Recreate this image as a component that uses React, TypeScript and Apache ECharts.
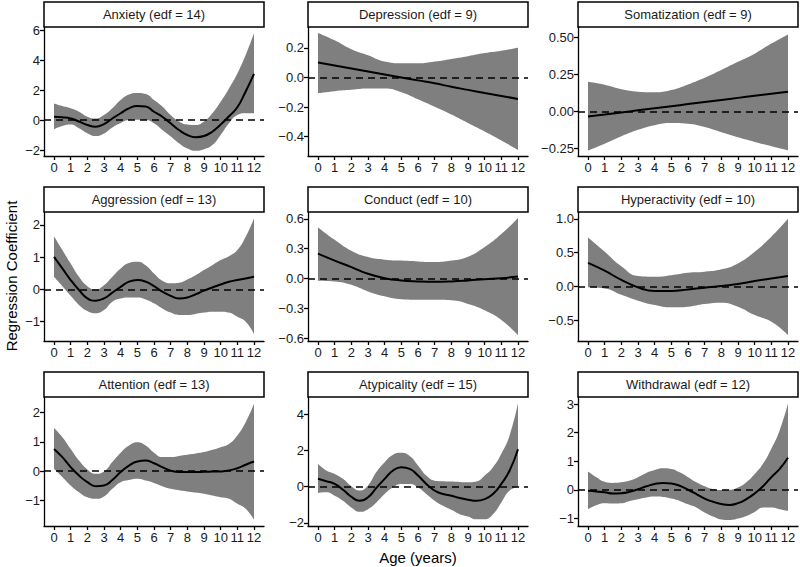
import React, { useEffect, useRef } from "react";
import * as echarts from "echarts";

// ---------- Data ----------
const AGE_HALF = [0, 0.5, 1, 1.5, 2, 2.5, 3, 3.5, 4, 4.5, 5, 5.5, 6, 6.5, 7, 7.5, 8, 8.5, 9, 9.5, 10, 10.5, 11, 11.5, 12];
const AGE_INT = [0, 1, 2, 3, 4, 5, 6, 7, 8, 9, 10, 11, 12];

const X_TICKS = [0, 1, 2, 3, 4, 5, 6, 7, 8, 9, 10, 11, 12];
const X_TICK_LABELS = ["0", "1", "2", "3", "4", "5", "6", "7", "8", "9", "10", "11", "12"];

const PANEL_TITLES = [
  "Anxiety (edf = 14)",
  "Depression (edf = 9)",
  "Somatization (edf = 9)",
  "Aggression (edf = 13)",
  "Conduct (edf = 10)",
  "Hyperactivity (edf = 10)",
  "Attention (edf = 13)",
  "Atypicality (edf = 15)",
  "Withdrawal (edf = 12)",
];

const ANXIETY_FIT = [0.22, 0.18, 0.1, -0.1, -0.33, -0.45, -0.27, 0.1, 0.45, 0.78, 0.93, 0.9, 0.55, 0.22, -0.22, -0.67, -1.0, -1.15, -1.07, -0.78, -0.3, 0.25, 0.85, 1.9, 3.07];
const ANXIETY_UP = [1.1, 0.93, 0.78, 0.55, 0.22, 0.1, 0.33, 0.78, 1.33, 1.7, 1.8, 1.73, 1.33, 0.9, 0.33, -0.1, -0.3, -0.33, -0.1, 0.45, 1.22, 2.1, 3.1, 4.33, 5.78];
const ANXIETY_LO = [-0.62, -0.4, -0.3, -0.55, -0.88, -1.07, -0.9, -0.5, -0.2, 0.0, 0.02, 0.0, -0.22, -0.67, -1.1, -1.55, -1.9, -2.05, -1.95, -1.67, -1.0, -0.22, 0.33, 0.45, 0.45];

const DEPRESSION_FIT = [0.1, 0.08, 0.06, 0.04, 0.02, 0.0, -0.02, -0.04, -0.063, -0.084, -0.105, -0.125, -0.145];
const DEPRESSION_UP = [0.3, 0.25, 0.19, 0.15, 0.107, 0.095, 0.095, 0.107, 0.125, 0.143, 0.164, 0.18, 0.2];
const DEPRESSION_LO = [-0.107, -0.093, -0.084, -0.075, -0.075, -0.1, -0.148, -0.198, -0.25, -0.307, -0.364, -0.425, -0.489];

const SOMATIZATION_FIT = [-0.033, -0.02, -0.006, 0.008, 0.022, 0.036, 0.05, 0.064, 0.078, 0.092, 0.106, 0.12, 0.134];
const SOMATIZATION_UP = [0.2, 0.18, 0.15, 0.134, 0.13, 0.145, 0.183, 0.228, 0.28, 0.335, 0.39, 0.458, 0.52];
const SOMATIZATION_LO = [-0.263, -0.217, -0.167, -0.123, -0.092, -0.078, -0.083, -0.105, -0.14, -0.174, -0.205, -0.234, -0.261];

const AGGRESSION_FIT = [1.01, 0.65, 0.29, -0.02, -0.28, -0.35, -0.28, -0.1, 0.08, 0.24, 0.29, 0.24, 0.1, -0.07, -0.2, -0.28, -0.25, -0.15, -0.04, 0.06, 0.15, 0.24, 0.29, 0.34, 0.39];
const AGGRESSION_UP = [1.65, 1.22, 0.8, 0.39, 0.1, 0.0, 0.13, 0.39, 0.65, 0.82, 0.86, 0.75, 0.49, 0.27, 0.19, 0.21, 0.31, 0.44, 0.6, 0.75, 0.91, 1.03, 1.22, 1.63, 2.2];
const AGGRESSION_LO = [0.39, 0.1, -0.2, -0.48, -0.67, -0.74, -0.64, -0.38, -0.28, -0.25, -0.25, -0.31, -0.43, -0.59, -0.72, -0.79, -0.79, -0.76, -0.72, -0.69, -0.69, -0.72, -0.85, -1.0, -1.38];

const CONDUCT_FIT = [0.25, 0.18, 0.115, 0.047, 0.003, -0.02, -0.03, -0.034, -0.03, -0.02, -0.007, 0.003, 0.02];
const CONDUCT_UP = [0.515, 0.39, 0.28, 0.216, 0.19, 0.18, 0.172, 0.165, 0.18, 0.22, 0.317, 0.448, 0.61];
const CONDUCT_LO = [-0.024, -0.03, -0.064, -0.13, -0.18, -0.21, -0.215, -0.215, -0.22, -0.256, -0.32, -0.418, -0.57];

const HYPERACTIVITY_FIT = [0.35, 0.235, 0.1, -0.01, -0.064, -0.064, -0.04, -0.015, 0.01, 0.04, 0.083, 0.12, 0.157];
const HYPERACTIVITY_UP = [0.725, 0.515, 0.3, 0.157, 0.147, 0.17, 0.206, 0.22, 0.255, 0.343, 0.515, 0.735, 1.0];
const HYPERACTIVITY_LO = [-0.01, -0.025, -0.12, -0.206, -0.27, -0.304, -0.294, -0.255, -0.235, -0.294, -0.417, -0.515, -0.71];

const ATTENTION_FIT = [0.76, 0.48, 0.14, -0.15, -0.375, -0.51, -0.49, -0.3, -0.03, 0.19, 0.33, 0.36, 0.27, 0.14, 0.02, -0.03, -0.03, -0.03, -0.02, -0.015, -0.01, 0.02, 0.1, 0.22, 0.33];
const ATTENTION_UP = [1.47, 1.16, 0.76, 0.36, 0.06, -0.09, -0.01, 0.31, 0.63, 0.875, 0.99, 0.875, 0.63, 0.48, 0.48, 0.52, 0.56, 0.6, 0.65, 0.73, 0.82, 0.93, 1.22, 1.67, 2.3];
const ATTENTION_LO = [0.08, -0.2, -0.49, -0.72, -0.89, -0.94, -0.86, -0.6, -0.375, -0.3, -0.26, -0.32, -0.4, -0.51, -0.6, -0.65, -0.69, -0.73, -0.77, -0.83, -0.89, -0.94, -1.11, -1.28, -1.65];

const ATYPICALITY_FIT = [0.43, 0.3, 0.15, -0.17, -0.56, -0.78, -0.59, -0.07, 0.43, 0.89, 1.07, 0.98, 0.61, 0.15, -0.22, -0.41, -0.5, -0.63, -0.72, -0.78, -0.69, -0.41, 0.15, 0.89, 2.06];
const ATYPICALITY_UP = [1.26, 0.89, 0.7, 0.43, 0.02, -0.22, 0.06, 0.8, 1.35, 1.76, 1.87, 1.69, 1.17, 0.61, 0.33, 0.3, 0.28, 0.26, 0.24, 0.28, 0.61, 1.07, 1.81, 2.83, 4.59];
const ATYPICALITY_LO = [-0.35, -0.31, -0.5, -0.78, -1.15, -1.39, -1.24, -0.87, -0.41, -0.04, 0.15, 0.15, -0.04, -0.41, -0.78, -1.06, -1.28, -1.52, -1.65, -1.8, -1.8, -1.52, -0.87, -0.22, -0.04];

const WITHDRAWAL_FIT = [-0.035, -0.06, -0.09, -0.13, -0.12, -0.07, 0.02, 0.12, 0.2, 0.24, 0.22, 0.14, 0.0, -0.15, -0.31, -0.42, -0.5, -0.53, -0.47, -0.33, -0.13, 0.12, 0.44, 0.73, 1.12];
const WITHDRAWAL_UP = [0.64, 0.44, 0.28, 0.24, 0.26, 0.32, 0.44, 0.59, 0.69, 0.75, 0.73, 0.61, 0.44, 0.26, 0.12, 0.02, -0.01, 0.0, 0.08, 0.26, 0.55, 0.91, 1.44, 2.08, 3.02];
const WITHDRAWAL_LO = [-0.68, -0.54, -0.47, -0.48, -0.47, -0.39, -0.33, -0.27, -0.24, -0.25, -0.31, -0.39, -0.51, -0.62, -0.8, -0.94, -1.04, -1.06, -1.01, -0.92, -0.78, -0.62, -0.62, -0.68, -0.74];

const Y_RANGES = [
  [-2.4, 6.2],
  [-0.53, 0.34],
  [-0.3, 0.57],
  [-1.6, 2.4],
  [-0.63, 0.67],
  [-0.8, 1.1],
  [-1.87, 2.53],
  [-2.17, 4.94],
  [-1.27, 3.25],
];

const Y_TICKS = [
  [-2, 0, 2, 4, 6],
  [-0.4, -0.2, 0, 0.2],
  [-0.25, 0, 0.25, 0.5],
  [-1, 0, 1, 2],
  [-0.6, -0.3, 0, 0.3, 0.6],
  [-0.5, 0, 0.5, 1.0],
  [-1, 0, 1, 2],
  [-2, 0, 2, 4],
  [-1, 0, 1, 2, 3],
];

const Y_TICK_LABELS = [
  ["\u22122", "0", "2", "4", "6"],
  ["\u22120.4", "\u22120.2", "0.0", "0.2"],
  ["\u22120.25", "0.00", "0.25", "0.50"],
  ["\u22121", "0", "1", "2"],
  ["\u22120.6", "\u22120.3", "0.0", "0.3", "0.6"],
  ["\u22120.5", "0.0", "0.5", "1.0"],
  ["\u22121", "0", "1", "2"],
  ["\u22122", "0", "2", "4"],
  ["\u22121", "0", "1", "2", "3"],
];

const PANELS = [
  { ages: AGE_HALF, fit: ANXIETY_FIT, up: ANXIETY_UP, lo: ANXIETY_LO },
  { ages: AGE_INT, fit: DEPRESSION_FIT, up: DEPRESSION_UP, lo: DEPRESSION_LO },
  { ages: AGE_INT, fit: SOMATIZATION_FIT, up: SOMATIZATION_UP, lo: SOMATIZATION_LO },
  { ages: AGE_HALF, fit: AGGRESSION_FIT, up: AGGRESSION_UP, lo: AGGRESSION_LO },
  { ages: AGE_INT, fit: CONDUCT_FIT, up: CONDUCT_UP, lo: CONDUCT_LO },
  { ages: AGE_INT, fit: HYPERACTIVITY_FIT, up: HYPERACTIVITY_UP, lo: HYPERACTIVITY_LO },
  { ages: AGE_HALF, fit: ATTENTION_FIT, up: ATTENTION_UP, lo: ATTENTION_LO },
  { ages: AGE_HALF, fit: ATYPICALITY_FIT, up: ATYPICALITY_UP, lo: ATYPICALITY_LO },
  { ages: AGE_HALF, fit: WITHDRAWAL_FIT, up: WITHDRAWAL_UP, lo: WITHDRAWAL_LO },
];

// ---------- Layout ----------
const FONT = "'Liberation Sans', Arial, Helvetica, sans-serif";
const COL_LEFT = [44, 308, 578];
const ROW_TOP = [27, 212, 397];
const PW = 220;
const PH = 129;
const STRIP_H = 25;
const BAND_COLOR = "#7f7f7f";

function buildOption() {
  const grid: any[] = [];
  const xAxis: any[] = [];
  const yAxis: any[] = [];
  const series: any[] = [];
  const graphics: any[] = [];

  PANELS.forEach((p, i) => {
    const left = COL_LEFT[i % 3];
    const top = ROW_TOP[Math.floor(i / 3)];
    grid.push({ left, top, width: PW, height: PH, containLabel: false });

    xAxis.push({
      type: "value",
      gridIndex: i,
      min: -0.6,
      max: 12.6,
      z: 6,
      splitLine: { show: false },
      axisLine: { show: true, onZero: false, lineStyle: { color: "#000", width: 1.3 } },
      axisTick: { show: true, length: 4, customValues: X_TICKS, lineStyle: { color: "#000", width: 1.3 } },
      axisLabel: {
        customValues: X_TICKS,
        formatter: (v: number) => {
          const k = X_TICKS.findIndex((t) => Math.abs(t - v) < 1e-9);
          return k >= 0 ? X_TICK_LABELS[k] : "";
        },
        color: "#1a1a1a",
        fontSize: 13,
        fontFamily: FONT,
        margin: 5,
      },
    });

    const ticks = Y_TICKS[i];
    const labels = Y_TICK_LABELS[i];
    yAxis.push({
      type: "value",
      gridIndex: i,
      min: Y_RANGES[i][0],
      max: Y_RANGES[i][1],
      z: 6,
      splitLine: { show: false },
      axisLine: { show: true, onZero: false, lineStyle: { color: "#000", width: 1.3 } },
      axisTick: { show: true, length: 4, customValues: ticks, lineStyle: { color: "#000", width: 1.3 } },
      axisLabel: {
        customValues: ticks,
        formatter: (v: number) => {
          const k = ticks.findIndex((t) => Math.abs(t - v) < 1e-9);
          return k >= 0 ? labels[k] : "";
        },
        color: "#1a1a1a",
        fontSize: 13,
        fontFamily: FONT,
        margin: 4,
      },
    });

    // Upper bound: grey fill down to the bottom of the panel
    series.push({
      type: "line",
      name: "upper" + i,
      xAxisIndex: i,
      yAxisIndex: i,
      data: p.ages.map((a, k) => [a, p.up[k]]),
      smooth: true,
      symbol: "none",
      silent: true,
      lineStyle: { opacity: 0, width: 0 },
      areaStyle: { color: BAND_COLOR, opacity: 1, origin: "start" },
      z: 1,
    });
    // Lower bound: white fill down to the bottom, leaving the ribbon
    series.push({
      type: "line",
      name: "lower" + i,
      xAxisIndex: i,
      yAxisIndex: i,
      data: p.ages.map((a, k) => [a, p.lo[k]]),
      smooth: true,
      symbol: "none",
      silent: true,
      lineStyle: { opacity: 0, width: 0 },
      areaStyle: { color: "#ffffff", opacity: 1, origin: "start" },
      z: 2,
    });
    series.push({
      type: "line",
      name: "fit" + i,
      xAxisIndex: i,
      yAxisIndex: i,
      data: p.ages.map((a, k) => [a, p.fit[k]]),
      smooth: true,
      symbol: "none",
      silent: true,
      lineStyle: { color: "#000", width: 2 },
      z: 4,
      markLine: {
        silent: true,
        symbol: ["none", "none"],
        label: { show: false },
        lineStyle: { color: "#000", type: [7, 5], width: 1.5 },
        data: [{ yAxis: 0 }],
      },
    });

    graphics.push({
      type: "rect",
      shape: { x: left, y: top - STRIP_H, width: PW, height: STRIP_H },
      style: { fill: "#fff", stroke: "#000", lineWidth: 1.5 },
      z: 10,
    });
    graphics.push({
      type: "text",
      x: left + PW / 2,
      y: top - STRIP_H / 2,
      style: {
        text: PANEL_TITLES[i],
        fontSize: 13,
        fontFamily: FONT,
        fill: "#1a1a1a",
        align: "center",
        verticalAlign: "middle",
      },
      z: 11,
    });
  });

  graphics.push({
    type: "text",
    x: 11,
    y: 276,
    rotation: Math.PI / 2,
    style: {
      text: "Regression Coefficient",
      fontSize: 15,
      fontFamily: FONT,
      fill: "#000",
      align: "center",
      verticalAlign: "middle",
    },
  });
  graphics.push({
    type: "text",
    x: 418,
    y: 557,
    style: {
      text: "Age (years)",
      fontSize: 15,
      fontFamily: FONT,
      fill: "#000",
      align: "center",
      verticalAlign: "middle",
    },
  });

  return {
    animation: false,
    backgroundColor: "#fff",
    grid,
    xAxis,
    yAxis,
    series,
    graphic: { elements: graphics },
  };
}

export default function App() {
  const ref = useRef<HTMLDivElement>(null);
  useEffect(() => {
    if (!ref.current) return;
    const chart = echarts.init(ref.current, undefined, { renderer: "svg", width: 800, height: 567 });
    chart.setOption(buildOption() as any);
    return () => {
      chart.dispose();
    };
  }, []);
  return (
    <div
      ref={ref}
      style={{ position: "absolute", left: 0, top: 0, width: 800, height: 567, background: "#fff" }}
    />
  );
}
